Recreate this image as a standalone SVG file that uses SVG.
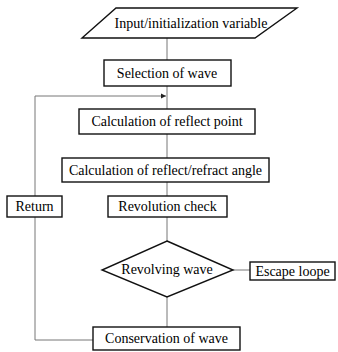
<svg xmlns="http://www.w3.org/2000/svg" width="338" height="352" viewBox="0 0 338 352">
<defs>
<style>
.n{fill:#fff;stroke:#111;stroke-width:1.4}
.t{font-family:"Liberation Serif","Times New Roman",serif;font-size:14px;fill:#000;text-anchor:middle;dominant-baseline:central}
.c{fill:none;stroke:#777;stroke-width:1}
</style>
<marker id="ah" markerWidth="6" markerHeight="6" refX="5" refY="3" orient="auto" markerUnits="userSpaceOnUse">
<path d="M0,0.5 L5,3 L0,5.5 Z" fill="#222"/>
</marker>
</defs>
<rect width="338" height="352" fill="#fff"/>
<g id="connectors">
<path class="c" d="M167,38 V60"/>
<path class="c" d="M167,86 V109"/>
<path class="c" d="M35,96 H166" marker-end="url(#ah)"/>
<path class="c" d="M35,96 V196"/>
<path class="c" d="M35,217 V340 H93"/>
<path class="c" d="M167,134 V158"/>
<path class="c" d="M167,182 V196"/>
<path class="c" d="M167,217 V241"/>
<path class="c" d="M233,270 H250"/>
<path class="c" d="M167,297 V327"/>
</g>
<g id="input">
<polygon class="n" points="116,8 297,8 255,38 82,38"/>
<text class="t" x="191" y="23">Input/initialization variable</text>
</g>
<g id="selection">
<rect class="n" x="104" y="60" width="127" height="26"/>
<text class="t" x="167" y="73">Selection of wave</text>
</g>
<g id="reflect-point">
<rect class="n" x="79" y="109" width="176" height="25"/>
<text class="t" x="167" y="121.5">Calculation of reflect point</text>
</g>
<g id="angle">
<rect class="n" x="62" y="158" width="207" height="24"/>
<text class="t" x="165.5" y="170">Calculation of reflect/refract angle</text>
</g>
<g id="return">
<rect class="n" x="7" y="196" width="55" height="21"/>
<text class="t" x="34.5" y="206.5">Return</text>
</g>
<g id="revolution">
<rect class="n" x="108" y="196" width="119" height="21"/>
<text class="t" x="167.5" y="206.5">Revolution check</text>
</g>
<g id="revolving">
<polygon class="n" points="167,241 233,270 167,297 102,270"/>
<text class="t" x="167" y="269">Revolving wave</text>
</g>
<g id="escape">
<rect class="n" x="250" y="262" width="85" height="18"/>
<text class="t" x="292.5" y="271">Escape loope</text>
</g>
<g id="conservation">
<rect class="n" x="93" y="327" width="147" height="23"/>
<text class="t" x="166.5" y="338.5">Conservation of wave</text>
</g>
</svg>
